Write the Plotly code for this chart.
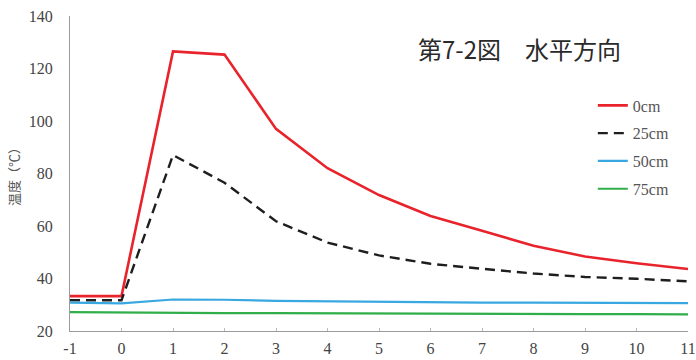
import plotly.graph_objects as go

# Elapsed time and temperatures at each horizontal distance
hours = [-1, 0, 1, 2, 3, 4, 5, 6, 7, 8, 9, 10, 11]
temp_0cm = [33.3, 33.3, 126.5, 125.3, 97.0, 82.0, 71.8, 63.8, 58.2, 52.5, 48.4, 45.8, 43.6]
temp_25cm = [31.7, 31.7, 87.0, 76.5, 61.8, 53.7, 48.8, 45.6, 43.7, 41.9, 40.6, 39.9, 38.9]
temp_50cm = [30.8, 30.5, 32.0, 31.9, 31.5, 31.3, 31.1, 30.9, 30.8, 30.8, 30.7, 30.7, 30.6]
temp_75cm = [27.2, 27.0, 26.9, 26.8, 26.8, 26.7, 26.7, 26.5, 26.6, 26.5, 26.4, 26.4, 26.3]

series = [
    ("0cm", temp_0cm, dict(color="#e8232b", width=2.6)),
    ("25cm", temp_25cm, dict(color="#1e1e1e", width=2.4, dash="10px,6px")),
    ("50cm", temp_50cm, dict(color="#3aa8e0", width=2.2)),
    ("75cm", temp_75cm, dict(color="#2fae4a", width=2.2)),
]

x_ticks = list(range(-1, 12))
y_ticks = list(range(20, 141, 20))

serif = "Liberation Serif, Times New Roman, serif"
cjk = "Noto Sans CJK JP, sans-serif"

fig = go.Figure()
for name, values, line in series:
    fig.add_trace(go.Scatter(
        x=hours, y=values, mode="lines", name=name, line=line,
        legendgroup=name,
    ))

fig.update_layout(
    width=696, height=360,
    margin=dict(l=70, r=8, t=16, b=29),
    paper_bgcolor="white", plot_bgcolor="white",
    showlegend=True,
    legend=dict(
        x=0.846, y=0.77, xanchor="left", yanchor="top",
        font=dict(family=serif, size=16, color="#555555"),
        bgcolor="rgba(0,0,0,0)", tracegroupgap=4,
        itemwidth=30,
    ),
    annotations=[
        dict(text="第7-2図　水平方向", xref="paper", yref="paper",
             x=0.727, y=0.898, xanchor="center", yanchor="middle",
             showarrow=False, font=dict(family=cjk, size=24, color="#2a2a2a")),
    ],
)

fig.update_xaxes(
    range=[-1, 11], tickvals=x_ticks, ticktext=[str(v) for v in x_ticks],
    showgrid=False, zeroline=False, showline=True, linecolor="#9a9a9a", linewidth=1,
    ticks="inside", ticklen=3, tickcolor="#bbbbbb", ticklabelstandoff=3,
    automargin=False,
    tickfont=dict(family=serif, size=16, color="#444444"),
)
fig.update_yaxes(
    range=[20, 140], tickvals=y_ticks, ticktext=[str(v) for v in y_ticks],
    showgrid=False, zeroline=False, showline=True, linecolor="#9a9a9a", linewidth=1,
    ticks="", ticklabelstandoff=13, automargin=False,
    tickfont=dict(family=serif, size=16, color="#444444"),
    title=dict(text="温度（℃）", font=dict(family=cjk, size=13, color="#555555"), standoff=6),
)

fig.write_html("out.html")
